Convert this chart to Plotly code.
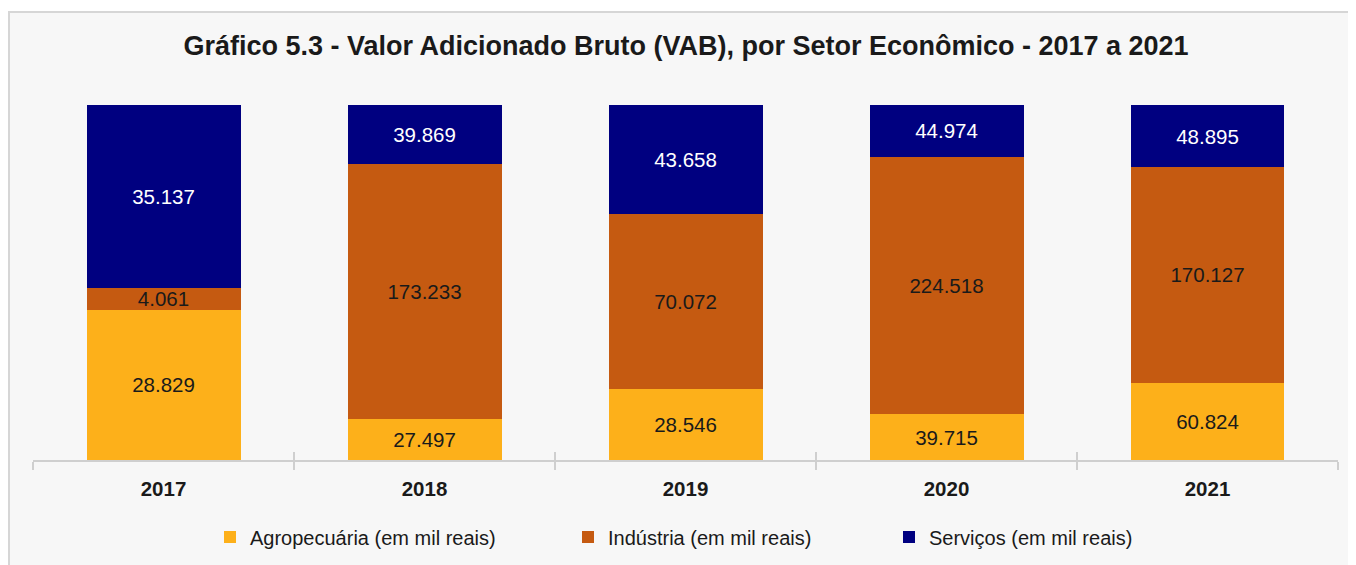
import plotly.graph_objects as go

years = ["2017", "2018", "2019", "2020", "2021"]
agro = [28829, 27497, 28546, 39715, 60824]
industria = [4061, 173233, 70072, 224518, 170127]
servicos = [35137, 39869, 43658, 44974, 48895]

series_names = ["Agropecuária (em mil reais)", "Indústria (em mil reais)", "Serviços (em mil reais)"]
colors = ["#FDB01A", "#C55A11", "#000080"]
text_colors = ["#1a1a1a", "#1a1a1a", "#ffffff"]

FONT = "Liberation Sans, Arial, sans-serif"
W, H = 1356, 565
# page body has an 8px margin; coordinates below are in figure pixels
L, T = 25, 97
PR, PB = 1330, 452
R, B = W - PR, H - PB
pw, ph = PR - L, PB - T

def fmt(v):
    return f"{v:,}".replace(",", ".")

legend_ids = ["legend", "legend2", "legend3"]
legend_px = [202, 560, 881]

fig = go.Figure()
for name, vals, col, tc, lg in zip(series_names, [agro, industria, servicos], colors, text_colors, legend_ids):
    fig.add_trace(go.Bar(
        x=years, y=vals, name=name, legend=lg,
        marker=dict(color=col, line=dict(width=0)),
        text=[fmt(v) for v in vals], textposition="inside", insidetextanchor="middle",
        textfont=dict(family=FONT, size=20.5, color=tc),
        constraintext="none", hoverinfo="x+y+name",
    ))

fig.add_trace(go.Scatter(x=years, y=[None] * 5, xaxis="x2", showlegend=False, hoverinfo="skip"))

legend_common = dict(orientation="h", xanchor="left", yanchor="middle",
                     y=-(529 - PB) / ph, font=dict(family=FONT, size=20, color="#1a1a1a"),
                     bgcolor="rgba(0,0,0,0)", itemwidth=30)
layout_legends = {lg: dict(x=(px - L) / pw, **legend_common) for lg, px in zip(legend_ids, legend_px)}

fig.update_layout(
    width=W, height=H,
    margin=dict(l=L, r=R, t=T, b=B),
    paper_bgcolor="#ffffff", plot_bgcolor="rgba(0,0,0,0)",
    barmode="stack", barnorm="percent", bargap=0.41,
    font=dict(family=FONT, size=20, color="#1a1a1a"),
    title=dict(text="<b>Gráfico 5.3 - Valor Adicionado Bruto (VAB), por Setor Econômico - 2017 a 2021</b>",
               x=0.5, xanchor="center", y=1 - 38 / H, yanchor="middle",
               font=dict(family=FONT, size=27, color="#1a1a1a")),
    xaxis=dict(type="category", range=[-0.5, 4.5], showline=True, linecolor="#cfcfcf", linewidth=1.5,
               tickson="boundaries", ticks="outside", ticklen=8, tickcolor="#cfcfcf", tickwidth=1.5,
               showgrid=False, tickfont=dict(size=20.5, color="#1a1a1a", family=FONT),
               tickprefix="<b>", ticksuffix="</b>", zeroline=False, ticklabelstandoff=10),
    xaxis2=dict(type="category", overlaying="x", range=[-0.5, 4.5], side="bottom", anchor="y",
                tickson="boundaries", ticks="inside", ticklen=8, tickcolor="#cfcfcf", tickwidth=1.5,
                showticklabels=False, showgrid=False, showline=False, zeroline=False),
    yaxis=dict(range=[0, 100], visible=False, showgrid=False, zeroline=False),
    uniformtext=dict(mode=False),
    shapes=[dict(type="rect", xref="paper", yref="paper", layer="below",
                 x0=(1 - L) / pw, x1=(W + 5 - L) / pw,
                 y0=-(H + 5 - PB) / ph, y1=1 + (T - 4) / ph,
                 fillcolor="#f7f7f7", line=dict(color="#d6d6d6", width=2))],
    **layout_legends,
)

fig.write_html("out.html")
